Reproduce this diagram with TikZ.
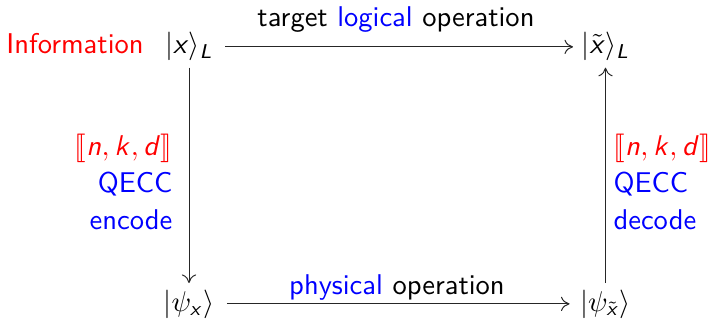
\documentclass[tikz,border=0pt]{standalone}
\usepackage{stmaryrd}
\usetikzlibrary{arrows.meta}
\DeclareMathAlphabet{\mathsl}{OT1}{cmss}{m}{sl}
\newcommand{\sv}[1]{\mathsl{#1}}
\begin{document}
\begin{tikzpicture}[x=0.35pt,y=-0.35pt,
  every node/.style={font=\sffamily, inner sep=0pt},
  arr/.style={draw=black!85, line width=0.35pt, -{To[length=3pt,width=5pt]}},
  ]
\useasboundingbox (0,0) rectangle (715,322);
\node[text=red, anchor=base] (info) at (75,54) {Information};
\node[anchor=base] (xL) at (189,54) {$|\sv{x}\rangle_{\sv{L}}$};
\node[anchor=base] (xt) at (605.5,54) {$|\tilde{\sv{x}}\rangle_{\sv{L}}$};
\node[anchor=base] (px) at (189,311) {$|\psi_{\sv{x}}\rangle$};
\node[anchor=base] (pxt) at (605.5,311) {$|\psi_{\tilde{\sv{x}}}\rangle$};
\node[anchor=base] (top) at (396,27) {target \textcolor{blue}{logical} operation};
\node[anchor=base] (bot) at (397,295) {\textcolor{blue}{physical} operation};
\node[anchor=east, align=right] (enc) at (173,182) {\textcolor{red}{$\llbracket \sv{n}, \sv{k}, \sv{d}\rrbracket$}\\[1pt]\textcolor{blue}{QECC}\\[1pt]\textcolor{blue}{encode}};
\node[anchor=west, align=left] (dec) at (613,182) {\textcolor{red}{$\llbracket \sv{n}, \sv{k}, \sv{d}\rrbracket$}\\[1pt]\textcolor{blue}{QECC}\\[1pt]\textcolor{blue}{decode}};
\draw[arr] ([xshift=12*0.35pt]xL.east) -- ([xshift=-8*0.35pt]xt.west);
\draw[arr] ([xshift=12*0.35pt]px.east) -- ([xshift=-10*0.35pt]pxt.west);
\draw[arr] ([yshift=-6*0.35pt]xL.south) -- ([yshift=6*0.35pt]px.north);
\draw[arr] ([yshift=6*0.35pt]pxt.north) -- ([yshift=-6*0.35pt]xt.south);
\end{tikzpicture}
\end{document}
